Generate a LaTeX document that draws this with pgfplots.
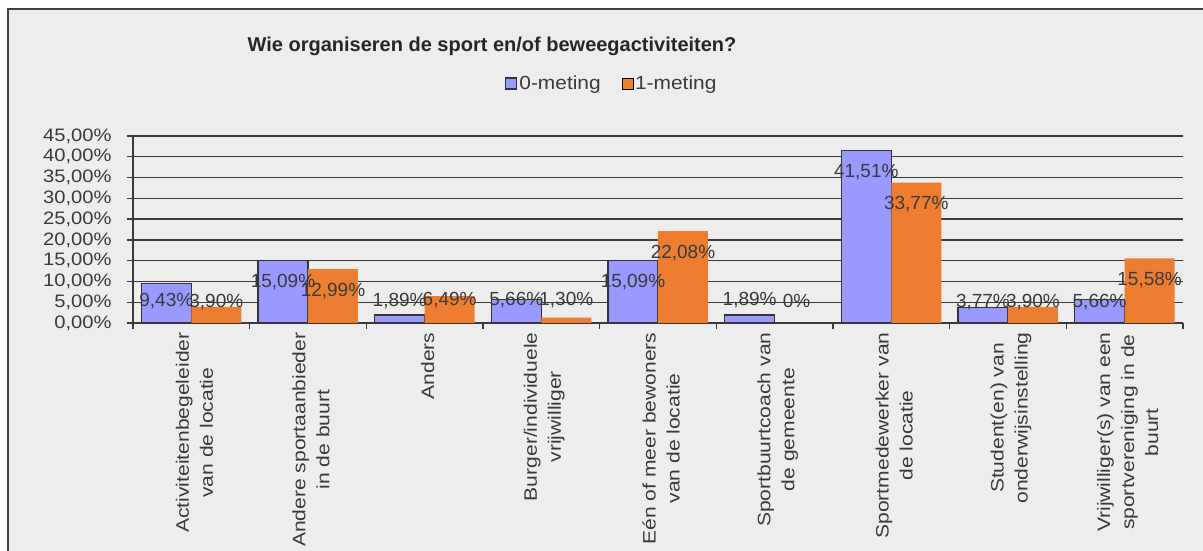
\documentclass[border=0pt]{standalone}
\usepackage{pgfplots}
\pgfplotsset{compat=1.18}
\usepackage{fontspec}
\setmainfont{Liberation Sans}
\newfontfamily\tickfont{Liberation Sans}[FakeStretch=1.12]
\newfontfamily\xlabfont{Liberation Sans}[FakeStretch=1.17]
\newfontfamily\legfont{Liberation Sans}[FakeStretch=1.1]
\definecolor{bg}{HTML}{EDEDED}
\definecolor{frame}{HTML}{404040}
\definecolor{gridc}{HTML}{3A3A3A}
\definecolor{txt}{HTML}{3A3A3A}
\definecolor{bblue}{HTML}{9999FF}
\definecolor{bdark}{HTML}{333333}
\definecolor{borange}{HTML}{ED7D31}

\begin{document}
\begin{tikzpicture}
\useasboundingbox (0,0) rectangle (1203bp,551bp);
\clip (0,0) rectangle (1203bp,551bp);
\fill[white] (0,0) rectangle (1203bp,551bp);
\filldraw[fill=bg, draw=frame, line width=2bp] (7.5bp,-20bp) rectangle (1220bp,541.5bp);
\node[anchor=base, text=black!85, font=\bfseries\fontsize{20bp}{24bp}\selectfont] at (492bp,499bp) {Wie organiseren de sport en/of beweegactiviteiten?};
\begin{axis}[
  at={(133bp,228bp)}, anchor=south west,
  scale only axis, width=1050bp, height=187bp,
  xmin=-0.5, xmax=8.5, ymin=0, ymax=45,
  axis x line*=bottom, axis y line*=left,
  axis line style={-, draw=gridc, line width=1.3bp},
  /pgf/number format/assume math mode=true,
  ytick={0,5,...,45},
  yticklabel={\pgfmathprintnumber[fixed,fixed zerofill,precision=2,use comma]{\tick}\%},
  yticklabel style={font=\tickfont\fontsize{18bp}{20bp}\selectfont, text=txt, xshift=-12bp},
  ymajorgrids, grid style={draw=gridc, line width=1.3bp},
  tick align=outside, major tick length=6bp, minor tick length=6bp,
  tick style={draw=gridc, line width=1.3bp},
  xtick={0,...,8},
  major x tick style={draw=none},
  minor xtick={-0.5,0.5,...,8.5},
  xticklabels={{Activiteitenbegeleider\\van de locatie},{Andere sportaanbieder\\in de buurt},{Anders},{Burger/individuele\\vrijwilliger},{Eén of meer bewoners\\van de locatie},{Sportbuurtcoach van\\de gemeente},{Sportmedewerker van\\de locatie},{Student(en) van\\onderwijsinstelling},{Vrijwilliger(s) van een\\sportvereniging in de\\buurt}},
  xticklabel style={rotate=90, anchor=east, align=center, font=\xlabfont\fontsize{18bp}{24bp}\selectfont, text=txt, xshift=0bp, yshift=-3bp},
  legend columns=2,
  legend style={at={(0.456,1.281)}, anchor=center, draw=none, fill=none, font=\legfont\fontsize{19bp}{22bp}\selectfont, text=txt,
    /tikz/every even column/.append style={column sep=19bp}},
  legend image code/.code={\draw[#1] (0bp,-5.5bp) rectangle (11bp,5.5bp);},
  lbl/.style={forget plot, only marks, mark=*, mark options={opacity=0, draw opacity=0, fill opacity=0},
    every node near coord/.append style={anchor=center, text=txt, text opacity=1, opacity=1, font=\fontsize{19bp}{22bp}\selectfont}},
]
\addplot[ybar, bar width=50bp, bar shift=-25bp, fill=bblue, draw=bdark, line width=1.3bp] coordinates {
(0,9.43) (1,15.09) (2,1.89) (3,5.66) (4,15.09) (5,1.89) (6,41.51) (7,3.77) (8,5.66)};
\addplot[ybar, bar width=50bp, bar shift=25bp, fill=borange, draw=none] coordinates {
(0,3.90) (1,12.99) (2,6.49) (3,1.30) (4,22.08) (5,0) (6,33.77) (7,3.90) (8,15.58)};
\legend{0-meting,1-meting}
% data labels
\addplot[lbl, point meta=explicit,
  nodes near coords={\pgfmathprintnumber[fixed,fixed zerofill,precision=2,use comma]{\pgfplotspointmeta}\%},
  every node near coord/.append style={xshift=-25bp}]
  table[x=x, y=ly, meta=v] {
x ly v
0 5.2 9.43
1 9.8 15.09
2 5.3 1.89
3 5.4 5.66
4 9.8 15.09
5 5.4 1.89
6 36.2 41.51
7 5.1 3.77
8 5.1 5.66
};
\addplot[lbl, point meta=explicit,
  nodes near coords={\pgfmathprintnumber[fixed,fixed zerofill,precision=2,use comma]{\pgfplotspointmeta}\%},
  every node near coord/.append style={xshift=25bp}]
  table[x=x, y=ly, meta=v] {
x ly v
0 5.1 3.90
1 7.7 12.99
2 5.4 6.49
3 5.4 1.30
4 16.8 22.08
6 28.5 33.77
7 5.1 3.90
8 10.3 15.58
};
\addplot[lbl, nodes near coords={0\%},
  every node near coord/.append style={xshift=22bp}]
  coordinates {(5,5.4)};
\end{axis}
\end{tikzpicture}
\end{document}
